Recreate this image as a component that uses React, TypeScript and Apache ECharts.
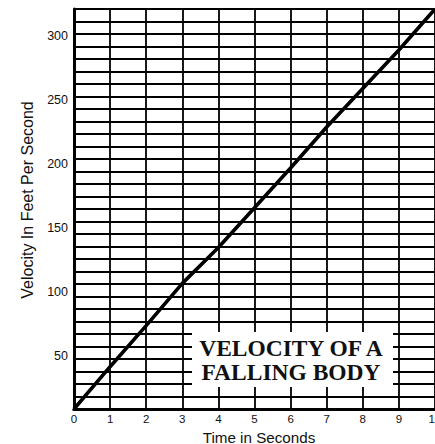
import React, { useEffect, useRef } from "react";
import * as echarts from "echarts";

const timeSeconds = [0, 1, 2, 3, 4, 5, 6, 7, 8, 9, 10];
const velocityFps = [9, 42, 74, 107, 135, 166, 197, 229, 259, 289, 321];
const velocityTickLabels = [50, 100, 150, 200, 250, 300];
const velocityRange = [9, 321];
const gridRowCount = 32;
const titleLines = ["VELOCITY OF A", "FALLING BODY"];
const xAxisTitle = "Time in Seconds";
const yAxisTitle = "Velocity In Feet Per Second";

const SANS = '"Liberation Sans", Arial, sans-serif';
const SERIF = '"Liberation Serif", "Times New Roman", serif';

export default function App() {
  const ref = useRef<HTMLDivElement>(null);

  useEffect(() => {
    if (!ref.current) return;
    const chart = echarts.init(ref.current, undefined, { renderer: "svg" });
    const black = "#000";
    const option: any = {
      animation: false,
      backgroundColor: "#fff",
      grid: {
        left: 74,
        right: 0,
        top: 9,
        bottom: 35,
        containLabel: false,
        outerBoundsMode: "none",
      },
      xAxis: [
        {
          type: "value",
          min: 0,
          max: 10,
          interval: 1,
          position: "bottom",
          axisLine: { show: true, onZero: false, lineStyle: { color: black, width: 3 } },
          axisTick: { show: false },
          axisLabel: {
            margin: 4,
            fontSize: 11.5,
            color: "#111",
            fontFamily: SANS,
            showMaxLabel: true,
            showMinLabel: true,
          },
          splitLine: { show: true, lineStyle: { color: black, width: 1.8 } },
          name: xAxisTitle,
          nameLocation: "middle",
          nameGap: 20,
          nameTextStyle: {
            fontSize: 15.2,
            lineHeight: 14,
            color: "#111",
            fontFamily: SANS,
            padding: [0, 0, 0, 9],
          },
        },
        {
          type: "value",
          min: 0,
          max: 10,
          position: "top",
          axisLine: { show: true, lineStyle: { color: black, width: 3 } },
          axisTick: { show: false },
          axisLabel: { show: false },
          splitLine: { show: false },
        },
      ],
      yAxis: [
        {
          type: "value",
          min: velocityRange[0],
          max: velocityRange[1],
          position: "left",
          axisLine: { show: true, onZero: false, lineStyle: { color: black, width: 3 } },
          axisTick: { show: false },
          axisLabel: {
            customValues: velocityTickLabels,
            margin: 6,
            fontSize: 12.5,
            color: "#111",
            fontFamily: SANS,
          },
          splitLine: { show: false },
          name: yAxisTitle,
          nameLocation: "middle",
          nameGap: 39,
          nameTextStyle: {
            fontSize: 16,
            color: "#111",
            fontFamily: SANS,
            padding: [0, 0, 0, 18],
          },
        },
        {
          type: "value",
          min: 0,
          max: gridRowCount,
          interval: 1,
          position: "right",
          axisLine: { show: false },
          axisTick: { show: false },
          axisLabel: { show: false },
          splitLine: { show: true, lineStyle: { color: black, width: 1.8 } },
        },
      ],
      series: [
        {
          type: "line",
          xAxisIndex: 0,
          yAxisIndex: 0,
          data: timeSeconds.map((t, i) => [t, velocityFps[i]]),
          symbol: "none",
          lineStyle: { color: black, width: 3.6 },
          clip: true,
          z: 5,
        },
      ],
      graphic: [
        {
          type: "rect",
          z: 100,
          shape: { x: 192, y: 332, width: 201, height: 55 },
          style: { fill: "#ffffff", stroke: "none" },
        },
        {
          type: "text",
          z: 101,
          x: 291,
          y: 360,
          style: {
            text: titleLines.join("\n"),
            font: `bold 23.5px ${SERIF}`,
            fill: "#111",
            align: "center",
            verticalAlign: "middle",
            lineHeight: 24,
          },
        },
      ],
    };
    chart.setOption(option);
    return () => chart.dispose();
  }, []);

  return (
    <div
      ref={ref}
      style={{ position: "absolute", left: 0, top: 0, width: 435, height: 444 }}
    />
  );
}
